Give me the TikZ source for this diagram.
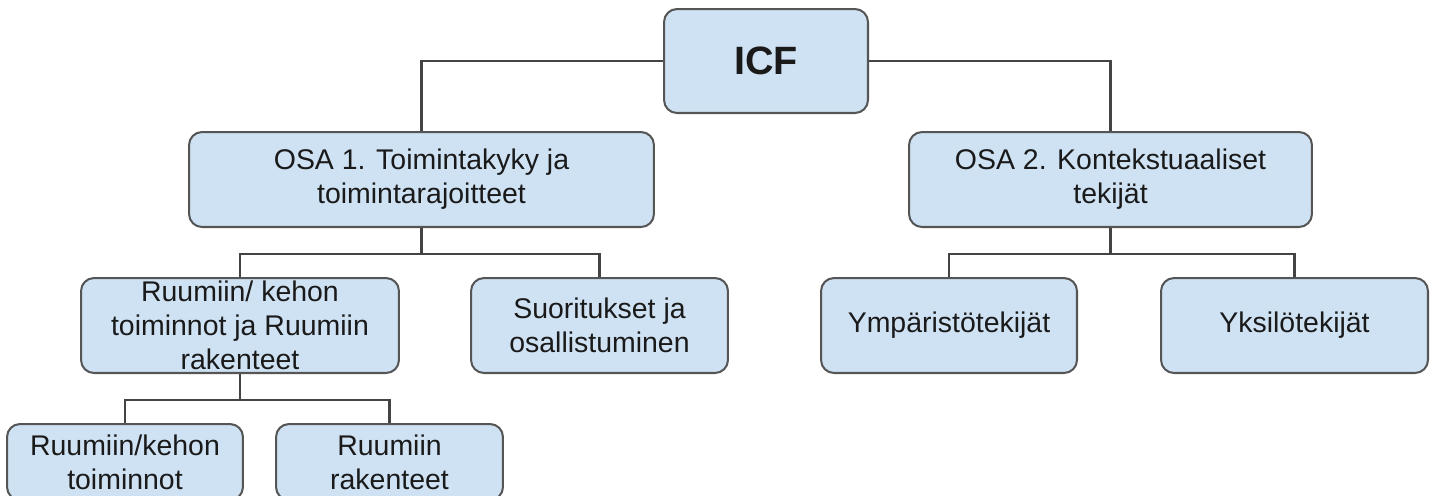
\documentclass[tikz,border=0pt]{standalone}
\usepackage{fontspec}
\setmainfont{Liberation Sans}
\definecolor{boxfill}{HTML}{CFE2F3}
\definecolor{boxline}{HTML}{555555}
\definecolor{connline}{HTML}{444444}
\definecolor{txt}{HTML}{1A1A1A}
\begin{document}
\begin{tikzpicture}[x=0.02cm,y=-0.02cm,
  box/.style={draw=boxline, fill=boxfill, line width=1.15pt, rounded corners=0.26cm,
    inner sep=0pt, align=center, text=txt, minimum height=1.9cm,
    font=\fontsize{16.2}{19.3}\selectfont},
  conn/.style={draw=connline, line width=1.2pt}]
\useasboundingbox (0,0) rectangle (1436,495);
\node[box, minimum width=4.08cm, minimum height=2.08cm, font=\fontsize{22.5}{27}\selectfont\bfseries] (icf) at (766,61) {ICF};
\node[box, minimum width=9.30cm] (osa1) at (421.5,179.5) {OSA 1. Toimintakyky ja\\toimintarajoitteet};
\node[box, minimum width=8.06cm] (osa2) at (1110.5,179.5) {OSA 2. Kontekstuaaliset\\tekijät};
\node[box, minimum width=6.36cm] (ruum) at (240,325.5) {Ruumiin/ kehon\\toiminnot ja Ruumiin\\rakenteet};
\node[box, minimum width=5.14cm] (suor) at (599.5,325.5) {Suoritukset ja\\osallistuminen};
\node[box, minimum width=5.12cm] (ymp) at (949,325.5) {Ympäristötekijät};
\node[box, minimum width=5.34cm] (yks) at (1294.5,325.5) {Yksilötekijät};
\node[box, minimum width=4.72cm, minimum height=1.52cm] (toim) at (125,462) {Ruumiin/kehon\\toiminnot};
\node[box, minimum width=4.54cm, minimum height=1.52cm] (rak) at (389.5,462) {Ruumiin\\rakenteet};
% connectors
\draw[conn] (icf.west) -| (osa1.north);
\draw[conn] (icf.east) -| (osa2.north);
\draw[conn] (osa1.south) -- ++(0,26) coordinate (j1);
\draw[conn] (j1) -| (ruum.north);
\draw[conn] (j1) -| (suor.north);
\draw[conn] (osa2.south) -- ++(0,26) coordinate (j2);
\draw[conn] (j2) -| (ymp.north);
\draw[conn] (j2) -| (yks.north);
\draw[conn] (ruum.south) -- ++(0,26) coordinate (j3);
\draw[conn] (j3) -| (toim.north);
\draw[conn] (j3) -| (rak.north);
\end{tikzpicture}
\end{document}
